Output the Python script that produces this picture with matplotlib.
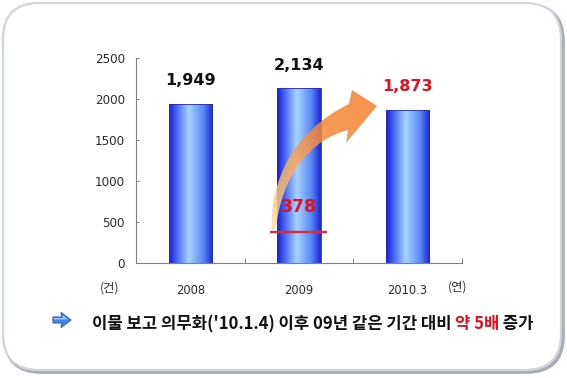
import matplotlib
matplotlib.use('Agg')
import matplotlib.pyplot as plt
import numpy as np
from matplotlib.patches import FancyBboxPatch, PathPatch, Polygon
from matplotlib.path import Path
from matplotlib.colors import LinearSegmentedColormap

# ---------------- data ----------------
categories = ['2008', '2009', '2010.3']
values = [1949, 2134, 1873]
value_labels = ['1,949', '2,134', '1,873']
before_value = 378            # same period of 2009
before_label = '378'
yticks = [0, 500, 1000, 1500, 2000, 2500]
unit_y = '(건)'
unit_x = '(연)'
caption_parts = ["이물 보고 의무화('10.1.4) 이후 09년 같은 기간 대비 ", "약 5배", " 증가"]

# ---------------- styles ----------------
RED = '#e3101e'
label_colors = ['#111111', '#111111', RED]
W, H = 567, 378
CJK = ['Noto Sans CJK KR', 'DejaVu Sans']

fig = plt.figure(figsize=(W / 100, H / 100), dpi=100)

# background axes in pixel coordinates
bg = fig.add_axes([0, 0, 1, 1], zorder=0)
bg.set_xlim(0, W)
bg.set_ylim(H, 0)
bg.axis('off')
shadow = FancyBboxPatch((5, 5), 558, 367, boxstyle='round,pad=0,rounding_size=36',
                        fc='none', ec='#a8acb4', lw=2.6)
box = FancyBboxPatch((3, 3), 558, 367, boxstyle='round,pad=0,rounding_size=36',
                     fc='white', ec='#d0d4db', lw=1.6)
bg.add_patch(shadow)
bg.add_patch(box)

# main chart axes
ax = fig.add_axes([136 / W, 1 - 262.7 / H, 326 / W, (262.7 - 58.5) / H], zorder=1)
ax.patch.set_alpha(0)

x = np.arange(len(categories))
bar_w = 0.40
bars = ax.bar(x, values, width=bar_w, color='none', edgecolor='#2a2aa8', lw=0.6, zorder=3)

bar_cmap = LinearSegmentedColormap.from_list('barg', [
    (0.0, '#1c1cc8'), (0.12, '#3550ee'), (0.45, '#a8d4ff'),
    (0.78, '#5a88f6'), (1.0, '#1a26d0')])
grad = np.linspace(0, 1, 256).reshape(1, -1)
for b in bars:
    x0, w, h = b.get_x(), b.get_width(), b.get_height()
    im = ax.imshow(grad, extent=[x0, x0 + w, 0, h], cmap=bar_cmap, aspect='auto',
                   interpolation='bicubic', zorder=2)
    im.set_clip_path(b)

# value labels
for xi, v, lab, col in zip(x, values, value_labels, label_colors):
    ax.annotate(lab, xy=(xi, v), xytext=(0, 11), textcoords='offset points',
                ha='center', va='bottom', fontsize=11.5, fontweight='bold',
                color=col, family='DejaVu Sans', zorder=6)

# ---- curved orange arrow (decoration, defined in pixel space) ----
def px2d(px, py):
    return ((px - 136) / 108.67 - 0.5, (262.7 - py) / ((262.7 - 58.5) / 2500))

pts_px = [
    (272, 231), (269, 180), (295, 130), (349, 104),   # outer edge (cubic)
    (352, 90), (377, 106), (346, 143), (348, 130),    # head
    (310, 140), (282, 175), (276, 228),               # inner edge (cubic)
    (272, 231)]
codes = [Path.MOVETO, Path.CURVE4, Path.CURVE4, Path.CURVE4,
         Path.LINETO, Path.LINETO, Path.LINETO, Path.LINETO,
         Path.CURVE4, Path.CURVE4, Path.CURVE4, Path.CLOSEPOLY]
verts = [px2d(*p) for p in pts_px]
arrow = PathPatch(Path(verts, codes), fc='none', ec='none', zorder=4)
ax.add_patch(arrow)
ax_x0, ax_y0 = px2d(265, 235)
ax_x1, ax_y1 = px2d(380, 86)
gy, gx = np.mgrid[0:1:200j, 0:1:200j]
tmap = np.clip(0.35 * gx + 0.75 * gy, 0, 1)
arrow_cmap = LinearSegmentedColormap.from_list('arrg', ['#fde8b4', '#f9b870', '#f58a3a', '#f4802e'])
aim = ax.imshow(tmap, extent=[ax_x0, ax_x1, ax_y0, ax_y1], origin='lower', cmap=arrow_cmap,
                aspect='auto', interpolation='bicubic', alpha=0.85, zorder=4)
aim.set_clip_path(arrow)

# previous-year (same period) marker
ax.plot([x[1] - 0.267, x[1] + 0.257], [before_value, before_value], color='#e02a3a', lw=1.7,
        zorder=5, solid_capstyle='butt')
ax.annotate(before_label, xy=(x[1], before_value), xytext=(0, 11.5), textcoords='offset points',
            ha='center', va='bottom', fontsize=12.5, fontweight='bold', color=RED,
            family='DejaVu Sans', zorder=6)

# axes styling
ax.set_xlim(-0.5, len(categories) - 0.5)
ax.set_ylim(0, 2500)
ax.set_yticks(yticks)
ax.set_yticklabels([str(t) for t in yticks])
ax.set_xticks(x)
ax.set_xticklabels(categories)
ax.set_xticks([0.5, 1.5, 2.5], minor=True)
ax.tick_params(axis='y', direction='in', length=2.4, width=0.7, color='#808080',
               pad=8, labelsize=8.6, labelcolor='#2a2a2a')
ax.tick_params(axis='x', which='major', length=0, pad=15, labelsize=8.3, labelcolor='#2a2a2a')
ax.tick_params(axis='x', which='minor', direction='in', length=3.5, width=0.7, color='#808080')
for s in ['top', 'right']:
    ax.spines[s].set_visible(False)
for s in ['left', 'bottom']:
    ax.spines[s].set_color('#808080')
    ax.spines[s].set_linewidth(0.8)

bg.text(110, 288, unit_y, ha='center', va='center', fontsize=8.8, color='#2a2a2a', family=CJK)
bg.text(458, 287, unit_x, ha='center', va='center', fontsize=8.8, color='#2a2a2a', family=CJK)

# caption bullet arrow (decoration)
bullet = Polygon([(53, 317), (62, 317), (61, 312.5), (71, 320), (61, 327.5), (62, 323), (53, 323)],
                 closed=True, fc='#3f86ea', ec='#2a62c8', lw=0.8, joinstyle='round')
bg.add_patch(bullet)
bg.add_patch(Polygon([(54, 318), (63, 318), (62.5, 315), (68, 319.5), (54, 319.5)],
                     closed=True, fc='#9cc6f8', ec='none'))

t1 = bg.text(91.7, 329, caption_parts[0], ha='left', va='baseline', fontsize=12,
             fontweight='bold', color='#111111', family=CJK)
t2 = bg.annotate(caption_parts[1], xy=(1, 0), xycoords=t1, ha='left', va='bottom',
                 fontsize=12, fontweight='bold', color=RED, family=CJK)
t3 = bg.annotate(caption_parts[2], xy=(1, 0), xycoords=t2, ha='left', va='bottom',
                 fontsize=12, fontweight='bold', color='#111111', family=CJK)

fig.savefig('out.png', dpi=100)
